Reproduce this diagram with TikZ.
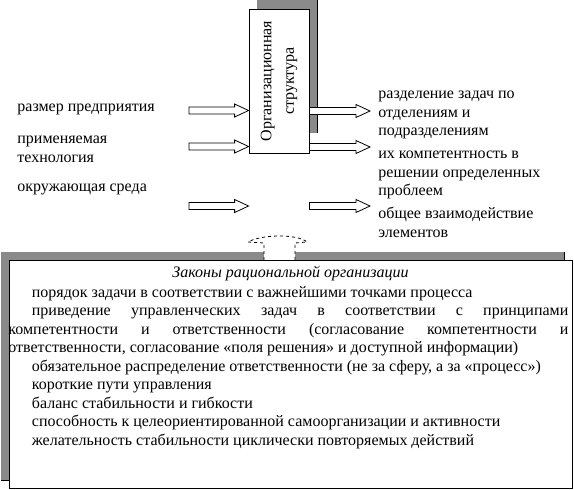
\documentclass[tikz,border=0pt]{standalone}
\usepackage{fontspec}
\setmainfont{Liberation Serif}
\usetikzlibrary{calc, backgrounds}
\definecolor{cshade}{HTML}{8A8A8A}
\newcommand{\lawind}{\hspace*{23.5pt}}
\tikzset{
  every picture/.style={line width=0.8pt},
  orgbox/.style={draw, fill=white, minimum width=60pt, minimum height=144pt, inner sep=0pt},
  lawbox/.style={draw, fill=white, minimum width=563pt, minimum height=228pt, inner sep=0pt},
  txt/.style={anchor=north west, inner sep=0pt, align=left, font=\fontsize{16}{18.5}\selectfont},
  blk/.style={draw, fill=white, line width=0.8pt,
    to path={let \p1=(\tikztostart), \p2=(\tikztotarget) in
      (\x1,\y1+3.5pt) -- (\x2-14pt,\y1+3.5pt) -- (\x2-14pt,\y1+6.5pt) -- (\x2,\y1)
      -- (\x2-14pt,\y1-6.5pt) -- (\x2-14pt,\y1-3.5pt) -- (\x1,\y1-3.5pt) -- cycle}},
}
\begin{document}
\begin{tikzpicture}[x=1pt, y=-1pt]
  \useasboundingbox (0,0) rectangle (574,490);
  \clip (0,0) rectangle (574,490);
  % structure box
  \node[orgbox] (org) at (279,81) {};
  \node[rotate=90, align=center, inner sep=0pt, font=\fontsize{16}{22.5}\selectfont] (orgtext) at (org.center) {Организационная\\структура};
  % inputs
  \node[txt] (size) at (17,98.6) {\strut размер предприятия};
  \node[txt] (tech) at (17,130.6) {\strut применяемая\\технология};
  \node[txt] (env) at (17,178.6) {\strut окружающая среда};
  \foreach \i/\y in {1/110.5, 2/146.5, 3/206} {
    \coordinate (in\i) at (189,\y);
    \draw[blk] (in\i) to (org.west |- in\i);
  }
  % outputs
  \node[txt] (div) at (378,85.6) {\strut разделение задач по\\отделениям и\\подразделениям};
  \node[txt] (comp) at (378,145.6) {\strut их компетентность в\\решении определенных\\проблеем};
  \node[txt] (inter) at (378,205.6) {\strut общее взаимодействие\\элементов};
  \foreach \i/\y in {1/111, 2/147, 3/206} {
    \coordinate (out\i) at (370,\y);
    \draw[blk] (org.east |- out\i) to (out\i);
  }
  % dashed link up from the laws
  \draw[dashed, fill=white, dash pattern=on 3pt off 3pt] (264,260) -- (264,243) -- (248,242)
    .. controls (262,234) and (298,234) .. (307,242) -- (295,243) -- (295,260);
  % laws box
  \node[lawbox] (laws) at (290.5,374) {};
  \node[anchor=base, inner sep=0pt, font=\fontsize{16}{18.5}\selectfont\itshape] (lawhead) at (290.5,277) {Законы рациональной организации};
  \node[txt, text width=560pt, align=justify] (lawbody) at (8,284.1) {\strut\lawind порядок задачи в соответствии с важнейшими точками процесса\par
    \lawind приведение управленческих задач в соответствии с принципами\linebreak
    компетентности и ответственности (согласование компетентности и\linebreak
    ответственности, согласование «поля решения» и доступной информации)\par
    \lawind обязательное распределение ответственности (не за сферу, а за «процесс»)\par
    \lawind короткие пути управления\par
    \lawind баланс стабильности и гибкости\par
    \lawind способность к целеориентированной самоорганизации и активности\par
    \lawind желательность стабильности циклически повторяемых действий};
  % shadows
  \begin{scope}[on background layer]
    \fill[cshade] ([shift={(8,-20)}]org.south west) rectangle ([shift={(8,-20)}]org.north east);
    \draw ([shift={(8,-20)}]org.south east) -- ([shift={(8,-20)}]org.north east);
    \fill[cshade] ([shift={(-8,-8)}]laws.south west) rectangle ([shift={(-8,-8)}]laws.north east);
    \draw ([shift={(-8,-8)}]laws.south west) -- ([shift={(-8,-8)}]laws.south east) -- ([shift={(-8,-8)}]laws.north east);
  \end{scope}
\end{tikzpicture}
\end{document}
